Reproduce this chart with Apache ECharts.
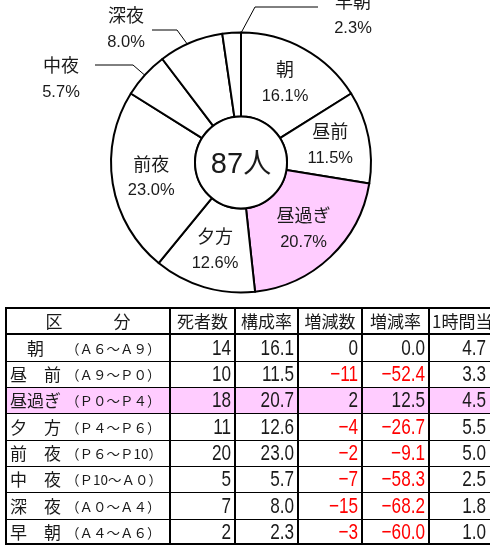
<!DOCTYPE html>
<html>
<head>
<meta charset="utf-8">
<script src="https://cdn.jsdelivr.net/npm/echarts/dist/echarts.min.js"></script>
<style>
  html, body { margin: 0; padding: 0; background: #fff; }
  #main { width: 490px; height: 546px; }
</style>
</head>
<body>
<div id="main"></div>
<script>
// 時間帯別 死者数
var names = ['朝', '昼前', '昼過ぎ', '夕方', '前夜', '中夜', '深夜', '早朝'];
var rowLabels = ['　朝', '昼　前', '昼過ぎ', '夕　方', '前　夜', '中　夜', '深　夜', '早　朝'];
var ranges = ['（Ａ６～Ａ９）', '（Ａ９～Ｐ０）', '（Ｐ０～Ｐ４）', '（Ｐ４～Ｐ６）', '（Ｐ６～Ｐ10）', '（Ｐ10～Ａ０）', '（Ａ０～Ａ４）', '（Ａ４～Ａ６）'];
var deaths = [14, 10, 18, 11, 20, 5, 7, 2];
var share = [16.1, 11.5, 20.7, 12.6, 23.0, 5.7, 8.0, 2.3];
var changeNum = [0, -11, 2, -4, -2, -7, -15, -3];
var changeRate = [0.0, -52.4, 12.5, -26.7, -9.1, -58.3, -68.2, -60.0];
var perHour = [4.7, 3.3, 4.5, 5.5, 5.0, 2.5, 1.8, 1.0];
var headers = ['区　　　分', '死者数', '構成率', '増減数', '増減率', '1時間当たり'];
var unit = '人';
var highlight = '昼過ぎ';
var outside = ['中夜', '深夜', '早朝'];

// layout / style
var PINK = '#FFCCFF';
var INK = '#1a1a1a';
var JP = "'Noto Sans CJK JP', sans-serif";
var NUM = "'Liberation Sans', Arial, sans-serif";
var pieCenter = [241, 162.5];
var pieR = [46, 130];
var colEdges = [0, 164, 229, 292, 356, 423, 484];
// 外側ラベルの置き場所（中心）と引出線の折れ点
var outPos = {
  '中夜': { c: [61, 79], line: [[95, 65], [133, 65]] },
  '深夜': { c: [126, 29], line: [[152, 30], [177, 30]] },
  '早朝': { c: [353, 15], line: [[318, 7], [255, 7]] }
};

var total = deaths.reduce(function (a, b) { return a + b; }, 0);

function midAngle(i) {
  var before = 0;
  for (var k = 0; k < i; k++) before += deaths[k];
  return (before + deaths[i] / 2) / total * Math.PI * 2;
}

function fmt(v, dec) {
  var s = Math.abs(v).toFixed(dec);
  return v < 0 ? '−' + s : s;
}

var pieData = names.map(function (n, i) {
  var item = {
    name: n,
    value: deaths[i],
    itemStyle: { color: n === highlight ? PINK : '#fff' }
  };
  if (outside.indexOf(n) >= 0) {
    item.label = { position: 'outside' };
    item.labelLine = { show: true };
  }
  return item;
});

var rowKeys = ['head'].concat(names);
var tableData = rowKeys.map(function (k, r) { return [0, r]; });

function renderRow(params, api) {
  var r = api.value(1);
  var yc = api.coord([0, r])[1];
  var h = api.size([0, 1])[1];
  var top = Math.round(yc - h / 2);
  var bot = Math.round(yc + h / 2);
  var mid = (top + bot) / 2;
  var xs = colEdges.map(function (e) { return Math.round(api.coord([e, r])[0]); });
  var kids = [];
  var i = r - 1;
  var bg = (r > 0 && names[i] === highlight) ? PINK : '#fff';
  kids.push({ type: 'rect', shape: { x: xs[0], y: top, width: xs[6] - xs[0] + 10, height: bot - top }, style: { fill: bg } });

  function txt(t, x, align, font, size, color, sx) {
    kids.push({
      type: 'text',
      x: x,
      y: mid + 1,
      scaleX: sx || 1,
      style: { text: t, x: 0, y: 0, align: align, verticalAlign: 'middle', fontFamily: font, fontSize: size, fill: color || INK }
    });
  }

  if (r === 0) {
    for (var c = 0; c < headers.length; c++) {
      if (c === headers.length - 1) txt(headers[c], xs[c] + 3, 'left', JP, 17);
      else txt(headers[c], (xs[c] + xs[c + 1]) / 2, 'center', JP, 17);
    }
  } else {
    txt(rowLabels[i], xs[0] + 4, 'left', JP, 17);
    txt(ranges[i], xs[0] + 60, 'left', JP, 13.5);
    var vals = [
      [String(deaths[i]), INK],
      [share[i].toFixed(1), INK],
      [fmt(changeNum[i], 0), changeNum[i] < 0 ? '#FF0000' : INK],
      [fmt(changeRate[i], 1), changeRate[i] < 0 ? '#FF0000' : INK],
      [perHour[i].toFixed(1), INK]
    ];
    for (var v = 0; v < vals.length; v++) {
      txt(vals[v][0], xs[v + 2] - 4, 'right', NUM, 22, vals[v][1], 0.78);
    }
  }

  // 罫線
  var topW = r <= 1 ? 2 : 1;
  var ty = top + (topW === 1 ? 0.5 : 0);
  kids.push({ type: 'line', shape: { x1: xs[0] - 1, y1: ty, x2: 500, y2: ty }, style: { stroke: '#000', lineWidth: topW } });
  if (r === rowKeys.length - 1) {
    kids.push({ type: 'line', shape: { x1: xs[0] - 1, y1: bot - 1, x2: 500, y2: bot - 1 }, style: { stroke: '#000', lineWidth: 2 } });
  }
  for (var e = 0; e < xs.length - 1; e++) {
    kids.push({ type: 'line', shape: { x1: xs[e], y1: top, x2: xs[e], y2: bot }, style: { stroke: '#000', lineWidth: 2 } });
  }
  return { type: 'group', children: kids };
}

var chart = echarts.init(document.getElementById('main'));

var option = {
  animation: false,
  backgroundColor: '#fff',
  grid: { left: 6, top: 308, width: colEdges[colEdges.length - 1], height: 237 },
  xAxis: { type: 'value', min: 0, max: colEdges[colEdges.length - 1], show: false },
  yAxis: { type: 'category', data: rowKeys, inverse: true, show: false },
  series: [
    {
      type: 'pie',
      center: pieCenter,
      radius: pieR,
      startAngle: 90,
      clockwise: true,
      avoidLabelOverlap: false,
      itemStyle: { borderColor: '#000', borderWidth: 2 },
      label: {
        position: 'inside',
        color: INK,
        formatter: function (p) {
          return '{n|' + p.name + '}\n{p|' + share[p.dataIndex].toFixed(1) + '%}';
        },
        rich: {
          n: { fontFamily: JP, fontSize: 18, lineHeight: 27, color: INK },
          p: { fontFamily: NUM, fontSize: 16.5, lineHeight: 27, color: INK }
        }
      },
      labelLine: { show: false, lineStyle: { color: '#000', width: 1 } },
      labelLayout: function (p) {
        var n = names[p.dataIndex];
        var o = outPos[n];
        if (!o) return {};
        var a = midAngle(p.dataIndex);
        var rr = pieR[1] * 0.88;
        var start = [pieCenter[0] + Math.sin(a) * rr, pieCenter[1] - Math.cos(a) * rr];
        return {
          x: o.c[0],
          y: o.c[1],
          align: 'center',
          verticalAlign: 'middle',
          labelLinePoints: [o.line[0], o.line[1], start]
        };
      },
      emphasis: { disabled: true },
      data: pieData,
      z: 2
    },
    {
      type: 'pie',
      center: pieCenter,
      radius: [0, pieR[0]],
      silent: true,
      itemStyle: { color: '#fff', borderColor: '#000', borderWidth: 2 },
      label: {
        position: 'center',
        formatter: function () { return '{a|' + total + '}{b|' + unit + '}'; },
        rich: {
          a: { fontFamily: NUM, fontSize: 29, color: INK, padding: [4, 0, 0, 0] },
          b: { fontFamily: JP, fontSize: 28, color: INK }
        }
      },
      labelLine: { show: false },
      data: [{ name: 'total', value: total }],
      z: 3
    },
    {
      type: 'custom',
      coordinateSystem: 'cartesian2d',
      renderItem: renderRow,
      silent: true,
      data: tableData
    }
  ]
};

chart.setOption(option);
</script>
</body>
</html>
